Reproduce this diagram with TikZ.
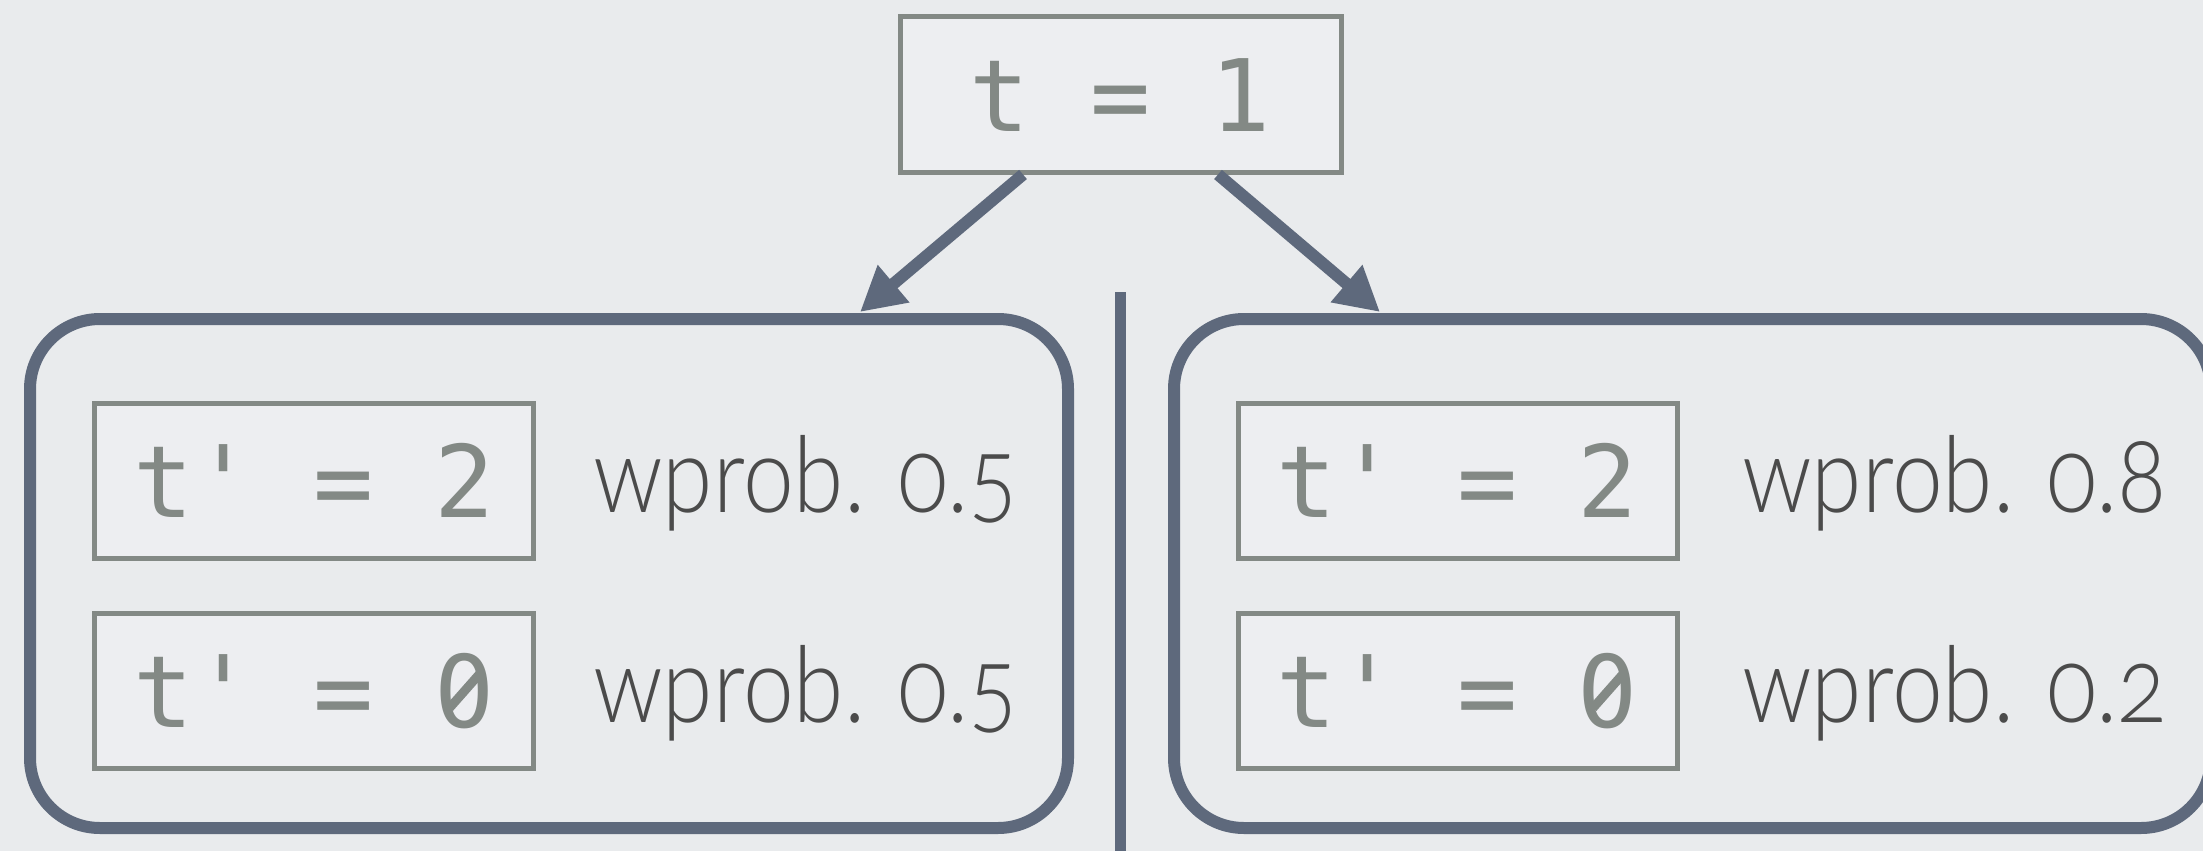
\documentclass[tikz,border=0pt]{standalone}
\usepackage{graphicx}
\usepackage{fontspec}
\setmainfont{Lato}[UprightFont=* Light, Numbers=OldStyle]
\setmonofont{DejaVu Sans Mono}
\usetikzlibrary{arrows.meta}

\definecolor{paper}{HTML}{E9EBED}
\definecolor{boxfill}{HTML}{EDEEF1}
\definecolor{boxline}{HTML}{838985}
\definecolor{slate}{HTML}{5E697C}
\definecolor{ink}{HTML}{4B4B4B}

\tikzset{
  codebox/.style={draw=boxline, line width=5pt, fill=boxfill, text=boxline,
    font=\fontsize{100}{120}\selectfont\ttfamily,
    text height=73pt, text depth=0pt, inner sep=0pt,
    minimum width=439pt, minimum height=155pt},
  group/.style={draw=slate, line width=12pt, rounded corners=70pt},
  prob/.style={text=ink, font=\fontsize{106}{126}\selectfont, anchor=base west, inner sep=0pt},
  link/.style={draw=slate, line width=12pt,
    -{Triangle[length=44pt,width=46pt]}},
  % turn the dotted zero of the code font into a slashed one
  zeroslash/.pic={
    \fill[boxfill] (0,0) ellipse (9 and 12);
    \draw[boxline, line width=9pt] (15,-17) -- (-15,17);
  },
}
\newcommand{\probtext}[1]{\scalebox{0.86}[1]{#1}}

\begin{document}
\begin{tikzpicture}[x=1pt, y=-1pt]
  \fill[paper] (0,0) rectangle (2203,851);
  \useasboundingbox (0,0) rectangle (2203,851);

  % the two outcome groups and the divider between them
  \draw[group] (30,319) rectangle (1068,828);
  \draw[group] (1174,319) rectangle (2211,828);
  \coordinate (divtop) at (1120,292);
  \coordinate (divbot) at (1120,860);
  \draw[slate, line width=11pt] (divtop) -- (divbot);

  % root
  \node[codebox, minimum width=441pt] (root) at (1120.5,94.5) {t = 1};

  % left group
  \node[codebox] (l2) at (314,481) {t' = 2};
  \node[codebox] (l0) at (314,691) {t' = 0};
  \node[prob] (lp2) at (593,512) {\probtext{wprob. 0.5}};
  \node[prob] (lp0) at (593,722) {\probtext{wprob. 0.5}};

  % right group
  \node[codebox] (r2) at (1457.5,481) {t' = 2};
  \node[codebox] (r0) at (1457.5,691) {t' = 0};
  \node[prob] (rp2) at (1742,512) {\probtext{wprob. 0.8}};
  \node[prob] (rp0) at (1742,722) {\probtext{wprob. 0.2}};

  \pic at ([xshift=150.5pt]l0.center) {zeroslash};
  \pic at ([xshift=150.5pt]r0.center) {zeroslash};

  % arrows from the root to each group
  \coordinate (ltip) at (860,312);
  \coordinate (rtip) at (1380,312);
  \draw[link] ([xshift=-97.5pt]root.south) -- (ltip);
  \draw[link] ([xshift=97.5pt]root.south) -- (rtip);
\end{tikzpicture}
\end{document}
